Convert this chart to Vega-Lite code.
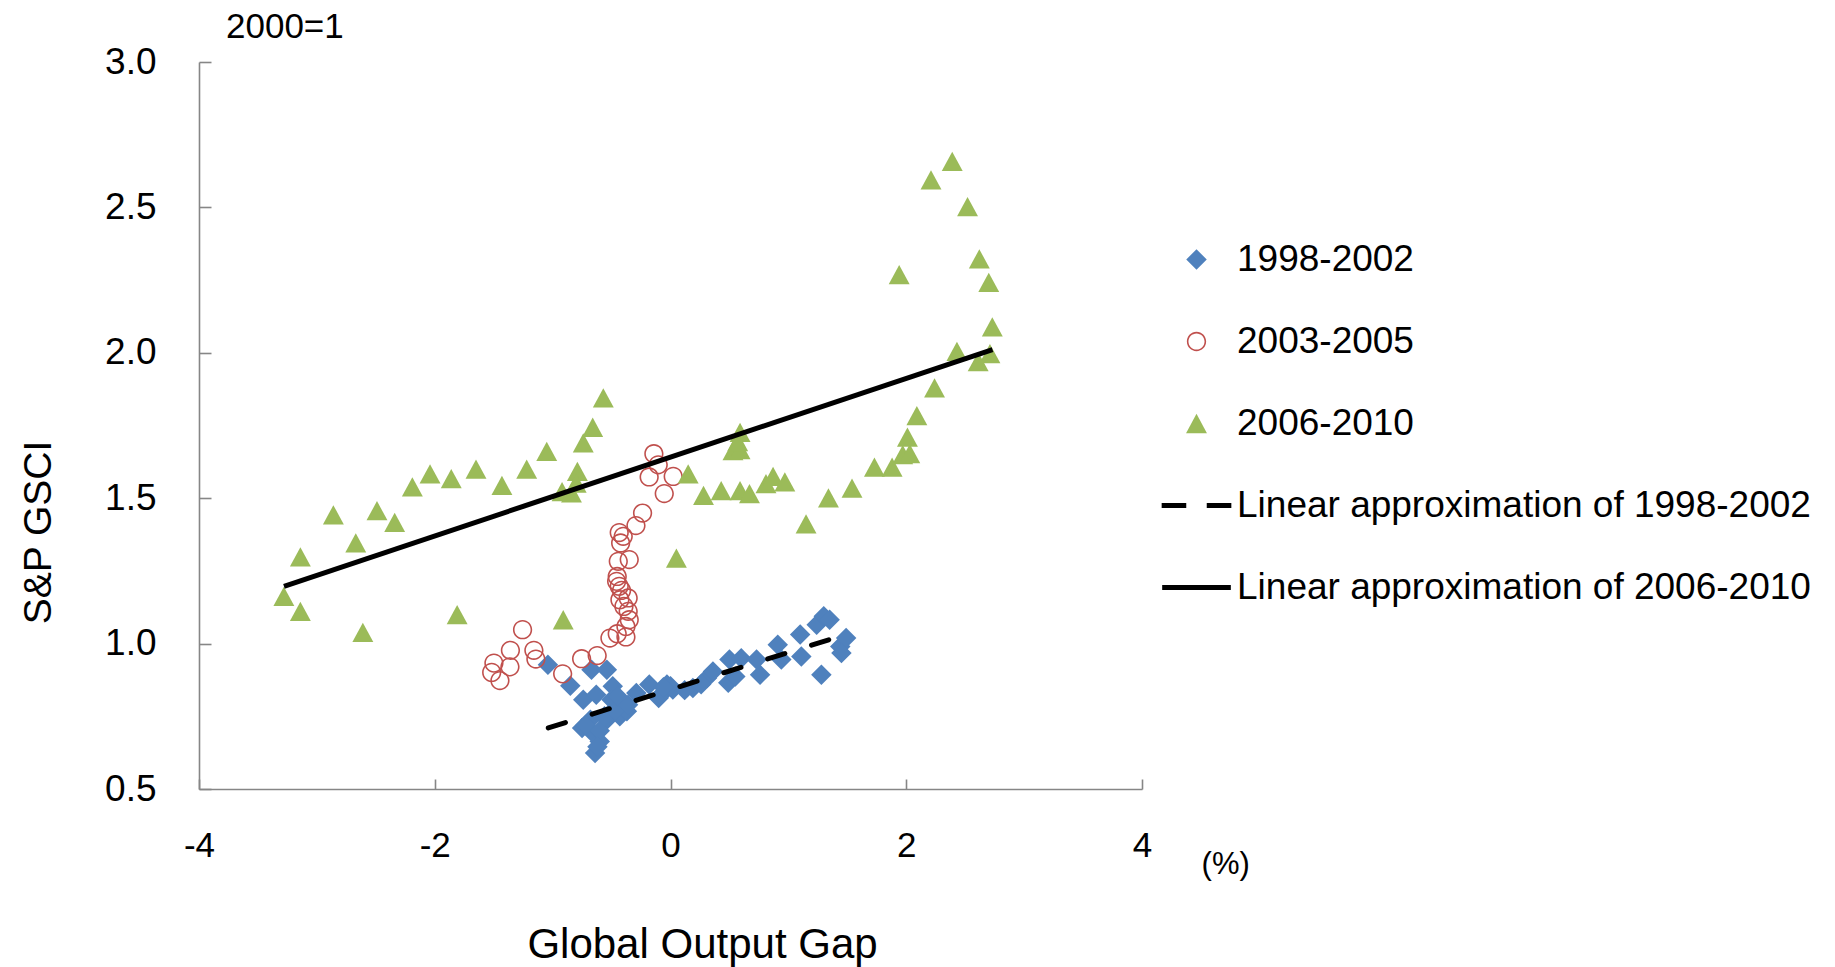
{
  "$schema": "https://vega.github.io/schema/vega-lite/v6.json",
  "width": 943,
  "height": 727,
  "autosize": {"type": "none"},
  "padding": {"left": 199, "top": 62, "right": 693, "bottom": 178},
  "background": "white",
  "config": {
    "font": "Liberation Sans",
    "view": {"stroke": null},
    "axis": {"grid": false, "domainColor": "#868686", "tickColor": "#868686", "domainWidth": 1.6, "tickWidth": 1.6, "labelColor": "black", "titleColor": "black", "labelFont": "Liberation Sans", "titleFont": "Liberation Sans", "titleFontWeight": "normal"}
  },
  "title": {"text": "2000=1", "anchor": "start", "frame": "group", "fontSize": 35, "fontWeight": "normal", "dx": 27, "offset": -2, "color": "black", "font": "Liberation Sans"},
  "datasets": {
    "pts": [
      {"series": "1998-2002", "gap": -1.04, "gsci": 0.927}, {"series": "1998-2002", "gap": -0.85, "gsci": 0.855}, {"series": "1998-2002", "gap": -0.67, "gsci": 0.91}, {"series": "1998-2002", "gap": -0.54, "gsci": 0.91},
      {"series": "1998-2002", "gap": -0.74, "gsci": 0.807}, {"series": "1998-2002", "gap": -0.63, "gsci": 0.824}, {"series": "1998-2002", "gap": -0.49, "gsci": 0.853}, {"series": "1998-2002", "gap": -0.5, "gsci": 0.807},
      {"series": "1998-2002", "gap": -0.4, "gsci": 0.773}, {"series": "1998-2002", "gap": -0.43, "gsci": 0.782}, {"series": "1998-2002", "gap": -0.75, "gsci": 0.71}, {"series": "1998-2002", "gap": -0.66, "gsci": 0.693},
      {"series": "1998-2002", "gap": -0.54, "gsci": 0.738}, {"series": "1998-2002", "gap": -0.43, "gsci": 0.75}, {"series": "1998-2002", "gap": -0.64, "gsci": 0.624}, {"series": "1998-2002", "gap": -0.6, "gsci": 0.663},
      {"series": "1998-2002", "gap": -0.37, "gsci": 0.767}, {"series": "1998-2002", "gap": -0.51, "gsci": 0.761}, {"series": "1998-2002", "gap": -0.68, "gsci": 0.738}, {"series": "1998-2002", "gap": -0.72, "gsci": 0.72},
      {"series": "1998-2002", "gap": -0.6, "gsci": 0.7}, {"series": "1998-2002", "gap": -0.56, "gsci": 0.75}, {"series": "1998-2002", "gap": -0.47, "gsci": 0.77}, {"series": "1998-2002", "gap": -0.62, "gsci": 0.645},
      {"series": "1998-2002", "gap": -0.29, "gsci": 0.83}, {"series": "1998-2002", "gap": -0.18, "gsci": 0.859}, {"series": "1998-2002", "gap": -0.1, "gsci": 0.813}, {"series": "1998-2002", "gap": -0.08, "gsci": 0.824},
      {"series": "1998-2002", "gap": -0.03, "gsci": 0.859}, {"series": "1998-2002", "gap": 0.0, "gsci": 0.853}, {"series": "1998-2002", "gap": 0.02, "gsci": 0.842}, {"series": "1998-2002", "gap": -0.06, "gsci": 0.85},
      {"series": "1998-2002", "gap": 0.19, "gsci": 0.847}, {"series": "1998-2002", "gap": 0.31, "gsci": 0.882}, {"series": "1998-2002", "gap": 0.36, "gsci": 0.904}, {"series": "1998-2002", "gap": 0.49, "gsci": 0.865},
      {"series": "1998-2002", "gap": 0.5, "gsci": 0.945}, {"series": "1998-2002", "gap": 0.55, "gsci": 0.887}, {"series": "1998-2002", "gap": 0.6, "gsci": 0.95}, {"series": "1998-2002", "gap": 0.73, "gsci": 0.945},
      {"series": "1998-2002", "gap": 0.76, "gsci": 0.893}, {"series": "1998-2002", "gap": 0.91, "gsci": 0.996}, {"series": "1998-2002", "gap": 0.94, "gsci": 0.945}, {"series": "1998-2002", "gap": 1.1, "gsci": 1.031},
      {"series": "1998-2002", "gap": 1.11, "gsci": 0.956}, {"series": "1998-2002", "gap": 1.24, "gsci": 1.065}, {"series": "1998-2002", "gap": 1.3, "gsci": 1.094}, {"series": "1998-2002", "gap": 1.35, "gsci": 1.082},
      {"series": "1998-2002", "gap": 1.28, "gsci": 0.893}, {"series": "1998-2002", "gap": 1.44, "gsci": 0.99}, {"series": "1998-2002", "gap": 1.49, "gsci": 1.019}, {"series": "1998-2002", "gap": 1.45, "gsci": 0.968},
      {"series": "1998-2002", "gap": -0.36, "gsci": 0.79}, {"series": "1998-2002", "gap": -0.45, "gsci": 0.82}, {"series": "1998-2002", "gap": 0.26, "gsci": 0.86}, {"series": "1998-2002", "gap": 0.12, "gsci": 0.84},

      {"series": "2003-2005", "gap": -1.517, "gsci": 0.901}, {"series": "2003-2005", "gap": -1.498, "gsci": 0.933}, {"series": "2003-2005", "gap": -1.447, "gsci": 0.873}, {"series": "2003-2005", "gap": -1.362, "gsci": 0.92},
      {"series": "2003-2005", "gap": -1.358, "gsci": 0.977}, {"series": "2003-2005", "gap": -1.255, "gsci": 1.048}, {"series": "2003-2005", "gap": -1.159, "gsci": 0.977}, {"series": "2003-2005", "gap": -1.142, "gsci": 0.947},
      {"series": "2003-2005", "gap": -0.915, "gsci": 0.896}, {"series": "2003-2005", "gap": -0.754, "gsci": 0.948}, {"series": "2003-2005", "gap": -0.622, "gsci": 0.959}, {"series": "2003-2005", "gap": -0.514, "gsci": 1.019},
      {"series": "2003-2005", "gap": -0.452, "gsci": 1.034}, {"series": "2003-2005", "gap": -0.378, "gsci": 1.023}, {"series": "2003-2005", "gap": -0.378, "gsci": 1.059}, {"series": "2003-2005", "gap": -0.35, "gsci": 1.082},
      {"series": "2003-2005", "gap": -0.359, "gsci": 1.111}, {"series": "2003-2005", "gap": -0.395, "gsci": 1.128}, {"series": "2003-2005", "gap": -0.429, "gsci": 1.151}, {"series": "2003-2005", "gap": -0.359, "gsci": 1.157},
      {"series": "2003-2005", "gap": -0.415, "gsci": 1.183}, {"series": "2003-2005", "gap": -0.435, "gsci": 1.197}, {"series": "2003-2005", "gap": -0.457, "gsci": 1.214}, {"series": "2003-2005", "gap": -0.452, "gsci": 1.231},
      {"series": "2003-2005", "gap": -0.443, "gsci": 1.283}, {"series": "2003-2005", "gap": -0.35, "gsci": 1.289}, {"series": "2003-2005", "gap": -0.423, "gsci": 1.346}, {"series": "2003-2005", "gap": -0.401, "gsci": 1.369},
      {"series": "2003-2005", "gap": -0.435, "gsci": 1.382}, {"series": "2003-2005", "gap": -0.293, "gsci": 1.406}, {"series": "2003-2005", "gap": -0.237, "gsci": 1.449}, {"series": "2003-2005", "gap": -0.053, "gsci": 1.516},
      {"series": "2003-2005", "gap": -0.181, "gsci": 1.573}, {"series": "2003-2005", "gap": 0.023, "gsci": 1.575}, {"series": "2003-2005", "gap": -0.104, "gsci": 1.615}, {"series": "2003-2005", "gap": -0.141, "gsci": 1.653},

      {"series": "2006-2010", "gap": -3.28, "gsci": 1.162}, {"series": "2006-2010", "gap": -3.14, "gsci": 1.298}, {"series": "2006-2010", "gap": -3.14, "gsci": 1.111}, {"series": "2006-2010", "gap": -2.86, "gsci": 1.443},
      {"series": "2006-2010", "gap": -2.67, "gsci": 1.346}, {"series": "2006-2010", "gap": -2.61, "gsci": 1.039}, {"series": "2006-2010", "gap": -2.49, "gsci": 1.457}, {"series": "2006-2010", "gap": -2.34, "gsci": 1.417},
      {"series": "2006-2010", "gap": -2.19, "gsci": 1.539}, {"series": "2006-2010", "gap": -2.04, "gsci": 1.584}, {"series": "2006-2010", "gap": -1.86, "gsci": 1.567}, {"series": "2006-2010", "gap": -1.65, "gsci": 1.6},
      {"series": "2006-2010", "gap": -1.81, "gsci": 1.1}, {"series": "2006-2010", "gap": -1.43, "gsci": 1.544}, {"series": "2006-2010", "gap": -1.22, "gsci": 1.6}, {"series": "2006-2010", "gap": -1.05, "gsci": 1.661},
      {"series": "2006-2010", "gap": -0.91, "gsci": 1.082}, {"series": "2006-2010", "gap": -0.92, "gsci": 1.523}, {"series": "2006-2010", "gap": -0.84, "gsci": 1.518}, {"series": "2006-2010", "gap": -0.79, "gsci": 1.592},
      {"series": "2006-2010", "gap": -0.8, "gsci": 1.552}, {"series": "2006-2010", "gap": -0.74, "gsci": 1.69}, {"series": "2006-2010", "gap": -0.66, "gsci": 1.744}, {"series": "2006-2010", "gap": -0.57, "gsci": 1.845},
      {"series": "2006-2010", "gap": 0.15, "gsci": 1.584}, {"series": "2006-2010", "gap": 0.05, "gsci": 1.294}, {"series": "2006-2010", "gap": 0.28, "gsci": 1.51}, {"series": "2006-2010", "gap": 0.43, "gsci": 1.526},
      {"series": "2006-2010", "gap": 0.59, "gsci": 1.526}, {"series": "2006-2010", "gap": 0.67, "gsci": 1.516}, {"series": "2006-2010", "gap": 0.81, "gsci": 1.55}, {"series": "2006-2010", "gap": 0.87, "gsci": 1.575},
      {"series": "2006-2010", "gap": 0.97, "gsci": 1.556}, {"series": "2006-2010", "gap": 0.59, "gsci": 1.726}, {"series": "2006-2010", "gap": 0.53, "gsci": 1.664}, {"series": "2006-2010", "gap": 0.59, "gsci": 1.667},
      {"series": "2006-2010", "gap": 0.57, "gsci": 1.695}, {"series": "2006-2010", "gap": 1.15, "gsci": 1.412}, {"series": "2006-2010", "gap": 1.34, "gsci": 1.501}, {"series": "2006-2010", "gap": 1.54, "gsci": 1.535},
      {"series": "2006-2010", "gap": 1.73, "gsci": 1.607}, {"series": "2006-2010", "gap": 1.88, "gsci": 1.607}, {"series": "2006-2010", "gap": 1.97, "gsci": 1.65}, {"series": "2006-2010", "gap": 2.03, "gsci": 1.653},
      {"series": "2006-2010", "gap": 2.01, "gsci": 1.71}, {"series": "2006-2010", "gap": 2.09, "gsci": 1.784}, {"series": "2006-2010", "gap": 2.24, "gsci": 1.879}, {"series": "2006-2010", "gap": 2.39, "gsci": 2.658},
      {"series": "2006-2010", "gap": 2.21, "gsci": 2.595}, {"series": "2006-2010", "gap": 2.52, "gsci": 2.503}, {"series": "2006-2010", "gap": 1.94, "gsci": 2.269}, {"series": "2006-2010", "gap": 2.62, "gsci": 2.323},
      {"series": "2006-2010", "gap": 2.7, "gsci": 2.242}, {"series": "2006-2010", "gap": 2.73, "gsci": 2.089}, {"series": "2006-2010", "gap": 2.43, "gsci": 2.005}, {"series": "2006-2010", "gap": 2.71, "gsci": 1.997},
      {"series": "2006-2010", "gap": 2.61, "gsci": 1.97}
    ],
    "fits": [
      {"series": "Linear approximation of 1998-2002", "gap": -1.037, "gsci": 0.71},
      {"series": "Linear approximation of 1998-2002", "gap": 1.49, "gsci": 1.032},
      {"series": "Linear approximation of 2006-2010", "gap": -3.279, "gsci": 1.197},
      {"series": "Linear approximation of 2006-2010", "gap": 2.732, "gsci": 2.011}
    ],
    "notes": [
      {"label": "(%)", "gap": 4.71, "gsci": 0.5}
    ]
  },
  "encoding": {
    "x": {"field": "gap", "type": "quantitative",
          "scale": {"domain": [-4, 4], "nice": false, "zero": false},
          "axis": {"values": [-4, -2, 0, 2, 4], "labelExpr": "'' + datum.value", "tickSize": -10, "labelFontSize": 35, "labelPadding": 49, "labelFlush": false,
                   "title": "Global Output Gap", "titleFontSize": 42, "titleX": 503, "titleY": 168, "titleAlign": "center", "titleBaseline": "alphabetic"}},
    "y": {"field": "gsci", "type": "quantitative",
          "scale": {"domain": [0.5, 3], "nice": false, "zero": false},
          "axis": {"values": [0.5, 1, 1.5, 2, 2.5, 3], "format": ".1f", "tickSize": -12, "labelFontSize": 37, "labelPadding": 55,
                   "title": "S&P GSCI", "titleFontSize": 39, "titleX": -149, "titleY": 470, "titleAngle": -90, "titleAlign": "center", "titleBaseline": "alphabetic"}}
  },
  "layer": [
    {
      "data": {"name": "pts"},
      "mark": {"type": "point", "filled": true, "size": 420, "opacity": 1, "strokeWidth": 0},
      "encoding": {
        "color": {"field": "series", "type": "nominal",
          "scale": {"domain": ["1998-2002", "2003-2005", "2006-2010", "Linear approximation of 1998-2002", "Linear approximation of 2006-2010"],
                    "range": ["#4F81BD", "#C0504D", "#9BBB59", "#000000", "#000000"]},
          "legend": {"title": null, "orient": "none", "legendX": 979, "legendY": 179, "symbolSize": 420, "symbolStrokeWidth": 0, "symbolOpacity": 1, "labelFontSize": 37, "labelColor": "black", "labelLimit": 1000, "labelOffset": 22, "rowPadding": 44}},
        "shape": {"field": "series", "type": "nominal",
          "scale": {"domain": ["1998-2002", "2003-2005", "2006-2010", "Linear approximation of 1998-2002", "Linear approximation of 2006-2010"],
                    "range": ["diamond",
                              "M-0.94,0A0.94,0.94 0 1,0 0.94,0A0.94,0.94 0 1,0 -0.94,0Z M-0.785,0A0.785,0.785 0 1,1 0.785,0A0.785,0.785 0 1,1 -0.785,0Z",
                              "M0,-0.94L-1.02,0.94L1.02,0.94Z",
                              "M-3.4,-0.24L-1.0,-0.24L-1.0,0.24L-3.4,0.24Z M1.0,-0.24L3.4,-0.24L3.4,0.24L1.0,0.24Z",
                              "M-3.35,-0.24L3.35,-0.24L3.35,0.24L-3.35,0.24Z"]}}
      }
    },
    {
      "data": {"name": "fits"},
      "transform": [{"filter": "datum.series === 'Linear approximation of 1998-2002'"}],
      "mark": {"type": "line", "strokeWidth": 5, "strokeDash": [18, 28], "strokeCap": "round"},
      "encoding": {
        "color": {"field": "series", "type": "nominal", "legend": null}
      }
    },
    {
      "data": {"name": "fits"},
      "transform": [{"filter": "datum.series === 'Linear approximation of 2006-2010'"}],
      "mark": {"type": "line", "strokeWidth": 5, "strokeCap": "butt"},
      "encoding": {
        "color": {"field": "series", "type": "nominal", "legend": null}
      }
    },
    {
      "data": {"name": "notes"},
      "mark": {"type": "text", "fontSize": 31, "dy": 76, "align": "center", "baseline": "middle", "color": "black", "font": "Liberation Sans"},
      "encoding": {"text": {"field": "label"}}
    }
  ]
}
